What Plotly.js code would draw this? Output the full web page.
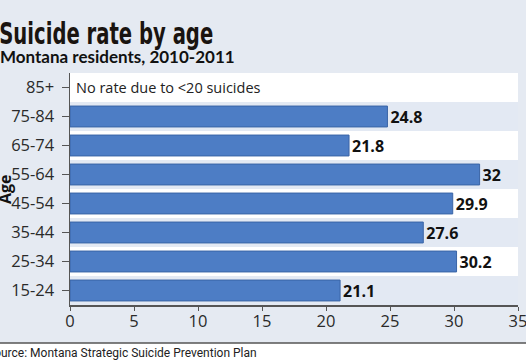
<!DOCTYPE html>
<html><head><meta charset="utf-8">
<script src="https://cdn.plot.ly/plotly-3.0.1.min.js"></script>
<style>html,body{margin:0;padding:0;background:#e5eaf2;}#chart{width:526px;height:362px;}</style>
</head><body><div id="chart"></div>
<script>
const ages = ['15-24','25-34','35-44','45-54','55-64','65-74','75-84','85+'];
const rates = [21.1, 30.2, 27.6, 29.9, 32, 21.8, 24.8, null];
const rateLabels = rates.map(v => v === null ? '' : String(v));
const noRateNote = 'No rate due to <20 suicides';
const titleText = 'Suicide rate by age';
const subtitleText = 'Montana residents, 2010-2011';
const sourceText = 'Source: Montana Strategic Suicide Prevention Plan';

const W = 526, H = 362, L = 70, R = 8, T = 73, B = 57;
const pw = W - L - R, ph = H - T - B;
const px = x => (x - L) / pw;
const py = y => (H - B - y) / ph;
const titleW = 214;

const bg = '#e5eaf2', band = '#e3e9f3';
const shapes = [];
ages.forEach((a, i) => {
  if (i % 2 === 0) shapes.push({type:'rect', layer:'below', xref:'paper', x0:0, x1:1, yref:'y', y0:i-0.5, y1:i+0.5, fillcolor:band, line:{width:0}});
});
shapes.push({type:'rect', xref:'paper', yref:'paper', x0:px(0), x1:px(W), y0:py(343), y1:py(H+2), fillcolor:'#ffffff', line:{width:0}});
shapes.push({type:'line', xref:'paper', yref:'paper', x0:px(0), x1:px(W), y0:py(343), y1:py(343), line:{color:'#555555', width:1.5}});

const noteIdx = rates.findIndex(v => v === null);
const tickFont = {family:'Open Sans', size:16.5, color:'#2a2a2a'};

const data = [{
  type:'bar', orientation:'h', y:ages, x:rates, width:0.72,
  marker:{color:'#4d7dc5', line:{color:'#3a64a6', width:1}},
  text:rateLabels, textposition:'outside', cliponaxis:false, constraintext:'none',
  textfont:{family:'Open Sans', size:16, color:'#111111', weight:'bold'},
  hoverinfo:'none'
}];

const layout = {
  width:W, height:H, margin:{l:L, r:R, t:T, b:B},
  paper_bgcolor:bg, plot_bgcolor:'#ffffff', showlegend:false,
  xaxis:{range:[0,35], dtick:5, showgrid:false, zeroline:false, showline:true, linecolor:'#555555', linewidth:1.5,
         ticks:'outside', ticklen:4, tickcolor:'#555555', tickfont:tickFont, ticklabeloverflow:'allow', ticklabelstandoff:-3},
  yaxis:{type:'category', categoryarray:ages, range:[-0.5, 7.5], showgrid:false, zeroline:false, showline:true,
         linecolor:'#555555', linewidth:1.5, ticks:'outside', ticklen:7, tickcolor:'#555555',
         ticklabelstandoff:4, tickfont:tickFont},
  shapes: shapes,
  annotations:[
    {xref:'paper', yref:'paper', x:px(-1 + titleW / 2), y:py(34), xanchor:'center', yanchor:'middle', showarrow:false, text:titleText,
     font:{family:'DejaVu Sans Condensed, Liberation Sans Narrow, Arial Narrow, sans-serif', size:30, color:'#1a1410', weight:'bold'}},
    {xref:'paper', yref:'paper', x:px(-2), y:py(56), xanchor:'left', yanchor:'middle', showarrow:false, text:subtitleText,
     font:{family:'Lato', size:17, color:'#111111', weight:'bold'}},
    {xref:'paper', yref:'paper', x:px(-15), y:py(353), xanchor:'left', yanchor:'middle', showarrow:false, text:sourceText,
     font:{family:'Roboto', size:12, color:'#222222'}},
    {xref:'paper', yref:'paper', x:px(5), y:0.5, xanchor:'center', yanchor:'middle', textangle:-90, showarrow:false, text:'Age',
     font:{family:'Open Sans', size:16, color:'#111111', weight:'bold'}},
    {xref:'x', yref:'y', x:0, y:ages[noteIdx], xanchor:'left', yanchor:'middle', xshift:4, showarrow:false, text:noRateNote,
     font:{family:'Open Sans', size:14.5, color:'#222222'}}
  ]
};
Plotly.newPlot('chart', data, layout, {displayModeBar:false, staticPlot:true}).then(gd => {
  gd.querySelectorAll('text.annotation-text').forEach(t => {
    if (t.textContent === titleText) {
      t.setAttribute('textLength', String(titleW));
      t.setAttribute('lengthAdjust', 'spacingAndGlyphs');
    }
  });
});
</script></body></html>
